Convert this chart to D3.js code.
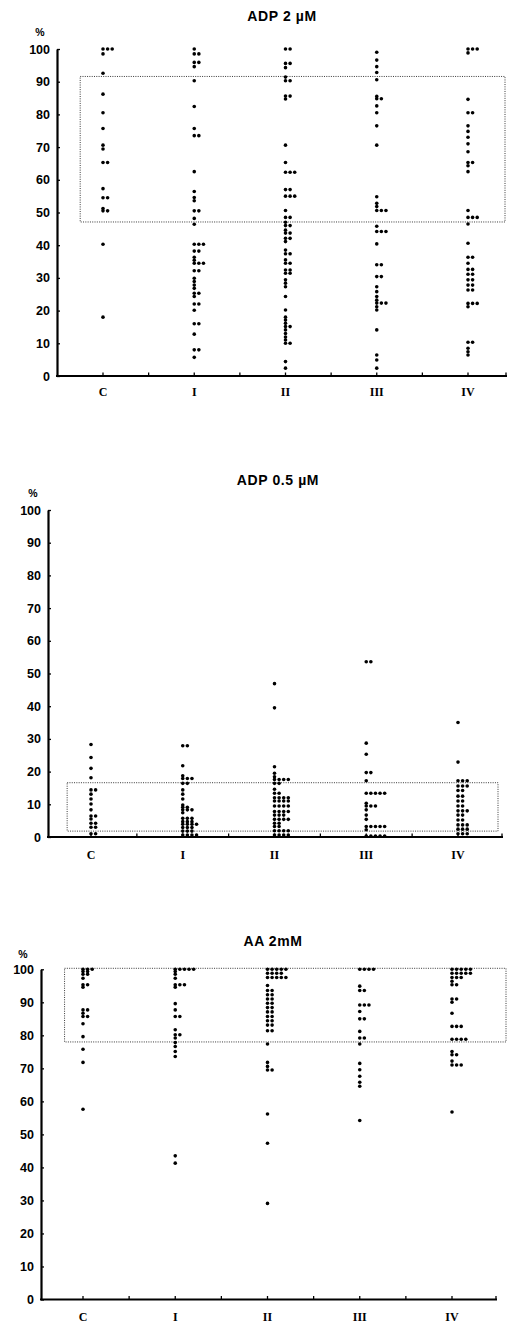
<!DOCTYPE html>
<html>
<head>
<meta charset="utf-8">
<script src="https://cdn.jsdelivr.net/npm/d3@7"></script>
<style>
  body { margin: 0; background: #fff; }
  svg { display: block; }
</style>
</head>
<body>
<div id="chart"></div>
<script>
// groups on the x axis
const categories = ["C", "I", "II", "III", "IV"];
const yTicks = [0, 10, 20, 30, 40, 50, 60, 70, 80, 90, 100];

// ADP 2 uM - one list per group (C, I, II, III, IV), equal values sit side by side
const adp2 = [
  [100, 100, 100, 98.5, 92.6, 86.2, 80.5, 75.7, 70.6, 69.4, 65.3, 65.3, 57.3, 54.5, 54.5, 51.2, 50.5, 50.5, 40.3, 18],
  [100, 98.5, 98.5, 95.9, 95.9, 94.6, 90.3, 82.4, 75.7, 73.5, 73.5, 62.5, 56.4, 54.6, 53.6, 50.5, 50.5, 48.2, 46.4,
   40.3, 40.3, 40.3, 38.2, 38.2, 36.3, 35.4, 34.5, 34.5, 34.5, 32.2, 32.2, 29.9, 28.9, 27.8, 26.8, 25.3, 25.3, 24.3,
   22, 22, 20.1, 16, 16, 12.8, 8, 8, 5.7],
  [100, 100, 95.6, 95.6, 94.3, 91.4, 90.3, 90.3, 85.6, 85.6, 84.7, 70.6, 65.3, 62.3, 62.3, 62.3, 57, 57, 55, 55, 55,
   50.6, 48.5, 48.5, 47, 46, 46, 44.6, 43.7, 43.7, 42.1, 42.1, 41.1, 38.5, 37.4, 37.4, 35.5, 34.5, 34.5, 32.4, 32.4,
   31.4, 31.4, 29.4, 28.4, 27.3, 24.3, 20.2, 18, 17.1, 16.1, 15.1, 15.1, 14.1, 13, 11.9, 11, 10, 10, 4.4, 2.4],
  [99, 96.6, 94.6, 92.8, 90.6, 85.5, 84.8, 84.8, 82.6, 80.5, 76.5, 70.6, 54.8, 52.8, 51.8, 50.6, 50.6, 50.6, 45.8,
   44.2, 44.2, 44.2, 40.4, 34, 34, 30.4, 30.4, 27.3, 25.8, 24.3, 23.2, 22.3, 22.3, 22.3, 21.2, 20.2, 14.1, 6.4, 4.9, 2.4],
  [100, 100, 100, 98.8, 84.6, 80.5, 80.5, 76.5, 74.8, 73, 71, 68.6, 65.3, 65.3, 64.3, 62.5, 50.6, 48.5, 48.5, 48.5,
   46.5, 40.6, 36.3, 36.3, 34.5, 32.6, 32.6, 31.1, 31.1, 29.4, 29.4, 27.8, 27.8, 26.3, 26.3, 22.2, 22.2, 22.2, 21.2,
   10.3, 10.3, 8.5, 7.4, 6.4]
];
const adp2Band = [47.1, 91.6];

// ADP 0.5 uM
const adp05 = [
  [28.3, 24.3, 21, 18.1, 14.4, 14.4, 13.1, 11.6, 10.1, 8.3, 6.4, 6.4, 5.5, 4.2, 4.2, 3, 3, 1, 1],
  [27.9, 27.9, 21.8, 18.7, 17.9, 17.9, 17.9, 16.4, 16.4, 14.4, 13.1, 11.6, 9.8, 9.1, 9.1, 8.3, 8.3, 8.3, 7.4,
   5.7, 5.7, 5.7, 4.7, 4.7, 4.7, 3.9, 3.9, 3.9, 3.9, 2.9, 2.9, 2.9, 1.8, 1.8, 1.8, 0.6, 0.6, 0.6, 0.6],
  [46.9, 39.5, 21.5, 19.5, 18.4, 17.6, 17.6, 17.6, 17.6, 16.4, 16.4, 14.6, 13.4, 13.4, 12, 12, 12, 12, 11, 11, 11, 11,
   9.5, 9.5, 9.5, 9.5, 7.8, 7.8, 7.8, 7.8, 6.7, 6.7, 6.7, 5.4, 5.4, 5.4, 5.4, 4.2, 4.2, 3.2, 3.2,
   1.9, 1.9, 1.9, 1.9, 0.6, 0.6, 0.6, 0.6],
  [53.6, 53.6, 28.7, 25.3, 19.7, 19.7, 17.2, 13.4, 13.4, 13.4, 13.4, 13.4, 10.3, 9.5, 9.5, 9.5, 8.3, 6.7, 5.4,
   3.2, 3.2, 3.2, 3.2, 3.2, 2.2, 0.3, 0.3, 0.3, 0.3, 0.3],
  [35, 22.9, 17.2, 17.2, 17.2, 15.6, 15.6, 15.6, 14.2, 14.2, 12.5, 12.5, 11, 11, 9.5, 9.5, 8, 8, 8, 6.7, 6.7,
   5.2, 5.2, 3.7, 3.7, 3.7, 2.4, 2.4, 2.4, 1, 1, 1]
];
const adp05Band = [1.8, 16.6];

// AA 2 mM
const aa2 = [
  [100, 100, 100, 99.3, 99.3, 98.5, 98.5, 97.3, 95.3, 95.3, 94.6, 87.7, 87.7, 86.7, 85.7, 85.7, 83.5, 79.6, 75.8, 71.8, 57.6],
  [100, 100, 100, 100, 100, 99.3, 98.5, 97.3, 95.3, 95.3, 95.3, 94.6, 89.6, 87.7, 85.7, 85.7, 81.7, 80.2, 80.2,
   79.2, 77.8, 76.6, 75.1, 73.6, 43.5, 41.3],
  [100, 100, 100, 100, 100, 98.8, 98.8, 98.8, 98.8, 97.5, 97.5, 97.5, 97.5, 97.5, 95.1, 93.6, 93.6, 92.3, 92.3,
   91, 91, 89.7, 89.7, 88.4, 88.4, 87.1, 87.1, 85.7, 85.7, 84.4, 84.4, 83.1, 83.1, 81.4, 81.4, 77.4,
   71.8, 70.6, 69.5, 69.5, 56.2, 47.3, 29.1],
  [100, 100, 100, 100, 94.9, 93.6, 93.6, 89.2, 89.2, 89.2, 87.2, 85, 85, 81.2, 79.2, 79.2, 77.4,
   71.5, 69.6, 67.6, 65.8, 64.6, 54.2],
  [100, 100, 100, 100, 100, 98.8, 98.8, 98.8, 98.8, 98.8, 97.5, 97.5, 97.5, 96.4, 95.3, 95.3, 91, 91, 90, 86.7,
   82.7, 82.7, 82.7, 78.8, 78.8, 78.8, 78.8, 75.1, 74.1, 74.1, 72.2, 71, 71, 71, 56.8]
];
const aa2Band = [78, 100.3];

const W = 509, H = 1323;

const svg = d3.select("#chart")
  .append("svg")
  .attr("width", W)
  .attr("height", H);

// page placement of each panel
const panels = [
  { title: "ADP 2 µM", values: adp2, band: adp2Band,
    titleX: 282, titleY: 21, pctX: 40, pctY: 36,
    axisX: 57, xEnd: 507, y0: 376, y100: 49, xC: 103, xIV: 468,
    bandL: 0.25, bandR: 505, labelPad: 12 },
  { title: "ADP 0.5 µM", values: adp05, band: adp05Band,
    titleX: 278, titleY: 485, pctX: 33, pctY: 497,
    axisX: 48, xEnd: 503, y0: 837, y100: 510, xC: 91, xIV: 458,
    bandL: 0.26, bandR: 498, labelPad: 14 },
  { title: "AA 2mM", values: aa2, band: aa2Band,
    titleX: 273, titleY: 946, pctX: 23, pctY: 958,
    axisX: 41, xEnd: 497, y0: 1299.5, y100: 969.3, xC: 83, xIV: 452,
    bandL: 0.2, bandR: 506, labelPad: 13 }
];

panels.forEach(p => drawPanel(p));

function drawPanel(p) {
  const y = d3.scaleLinear().domain([0, 100]).range([p.y0, p.y100]);
  const x = d3.scalePoint().domain(categories).range([p.xC, p.xIV]);
  const step = x.step();
  const g = svg.append("g");

  g.append("text")
    .attr("x", p.titleX)
    .attr("y", p.titleY)
    .attr("text-anchor", "middle")
    .attr("font-family", "Liberation Sans, Arial, sans-serif")
    .attr("font-weight", "bold")
    .attr("font-size", 14)
    .attr("letter-spacing", 0.6)
    .text(p.title);

  g.append("text")
    .attr("x", p.pctX)
    .attr("y", p.pctY)
    .attr("text-anchor", "middle")
    .attr("font-family", "Liberation Sans, Arial, sans-serif")
    .attr("font-weight", "bold")
    .attr("font-size", 10.5)
    .text("%");

  // dotted reference box
  const bx = x("C") - p.bandL * step;
  g.append("rect")
    .attr("x", bx)
    .attr("y", y(p.band[1]))
    .attr("width", p.bandR - bx)
    .attr("height", y(p.band[0]) - y(p.band[1]))
    .attr("fill", "none")
    .attr("stroke", "#222")
    .attr("stroke-width", 0.9)
    .attr("stroke-dasharray", "1,1.3");

  // y axis
  const yAxis = g.append("g")
    .attr("transform", `translate(${p.axisX},0)`)
    .call(d3.axisLeft(y).tickValues(yTicks).tickSizeInner(-3).tickSizeOuter(0).tickPadding(7));
  yAxis.select(".domain").attr("stroke-width", 2.2);
  yAxis.selectAll(".tick line").attr("stroke-width", 1.3);
  yAxis.selectAll("text")
    .attr("font-family", "Liberation Sans, Arial, sans-serif")
    .attr("font-weight", "bold")
    .attr("font-size", 12.5)
    .attr("fill", "#000");

  // x axis
  g.append("line")
    .attr("x1", p.axisX - 1)
    .attr("x2", p.xEnd)
    .attr("y1", p.y0)
    .attr("y2", p.y0)
    .attr("stroke", "#000")
    .attr("stroke-width", 2);

  const tickXs = [];
  categories.forEach((c, i) => {
    if (i > 0) tickXs.push((x(categories[i - 1]) + x(c)) / 2);
    tickXs.push(x(c));
  });
  tickXs.push(p.xEnd - 1);
  g.selectAll(".xtick")
    .data(tickXs)
    .join("line")
    .attr("class", "xtick")
    .attr("x1", d => d)
    .attr("x2", d => d)
    .attr("y1", p.y0)
    .attr("y2", p.y0 - 3.5)
    .attr("stroke", "#000")
    .attr("stroke-width", 1.3);

  g.selectAll(".xlab")
    .data(categories)
    .join("text")
    .attr("class", "xlab")
    .attr("x", d => x(d))
    .attr("y", p.y0 + p.labelPad + 8)
    .attr("text-anchor", "middle")
    .attr("font-family", "Liberation Serif, Times New Roman, serif")
    .attr("font-weight", "bold")
    .attr("font-size", 12)
    .text(d => d);

  // dots, equal values stack to the right
  const dots = [];
  p.values.forEach((vals, i) => {
    const seen = new Map();
    vals.forEach(v => {
      const k = seen.get(v) || 0;
      seen.set(v, k + 1);
      dots.push({ cat: categories[i], v: v, k: k });
    });
  });

  g.selectAll(".dot")
    .data(dots)
    .join("circle")
    .attr("class", "dot")
    .attr("cx", d => x(d.cat) + d.k * 4.6)
    .attr("cy", d => y(d.v))
    .attr("r", 1.8)
    .attr("fill", "#000");
}
</script>
</body>
</html>
